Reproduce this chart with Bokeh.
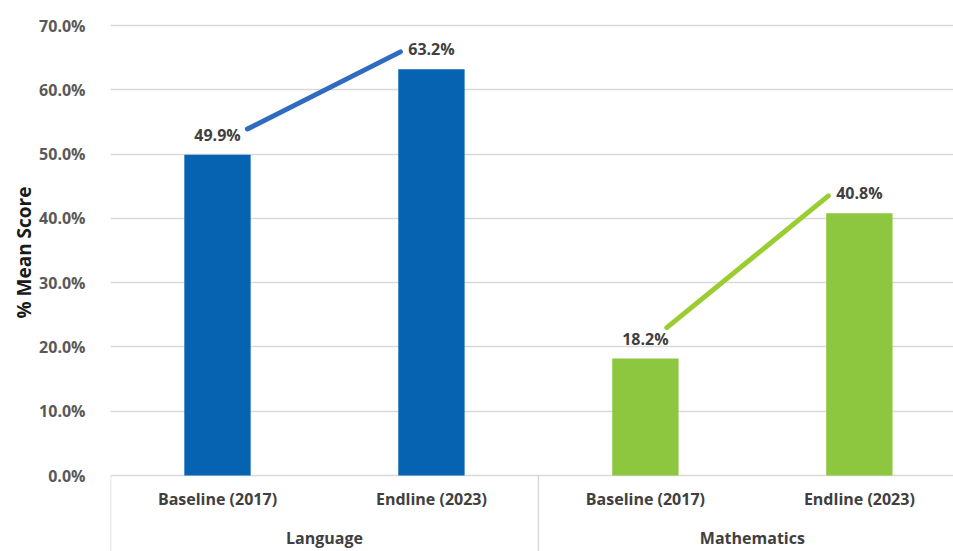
from bokeh.plotting import figure
from bokeh.models import (Range1d, FixedTicker, NumeralTickFormatter, Title,
                          ColumnDataSource)
from bokeh.core.properties import value
from bokeh.embed import file_html
from bokeh.resources import INLINE

# ---- data ----
subjects = ["Language", "Mathematics"]
rounds = ["Baseline (2017)", "Endline (2023)"]
language_scores = [0.499, 0.632]
mathematics_scores = [0.182, 0.408]
y_ticks = [0.0, 0.1, 0.2, 0.3, 0.4, 0.5, 0.6, 0.7]

# ---- style ----
BLUE = "#0563b1"
GREEN = "#8dc63f"
LINE_BLUE = "#2f6cc0"
LINE_GREEN = "#9acd32"
GRID = "#d9d9d9"
FONT = "Open Sans"

p = figure(width=953, height=551, output_backend="svg", toolbar_location=None,
           x_range=Range1d(0, 3.94), y_range=Range1d(-0.1182, 0.7389),
           x_axis_location=None, min_border_left=110, min_border_right=0,
           min_border_top=0, min_border_bottom=0)
p.outline_line_color = None
p.background_fill_color = "white"
p.border_fill_color = "white"

p.add_layout(Title(text="% Mean Score", align="left", offset=233,
                   text_font=FONT, text_font_style="bold",
                   text_font_size="19px", text_color="#1a1a1a",
                   standoff=0), "left")

p.yaxis.ticker = FixedTicker(ticks=y_ticks)
p.yaxis.formatter = NumeralTickFormatter(format="0.0%")
p.yaxis.axis_line_color = None
p.yaxis.major_tick_line_color = None
p.yaxis.minor_tick_line_color = None
p.yaxis.major_label_standoff = 19
p.yaxis.major_label_text_font = FONT
p.yaxis.major_label_text_font_style = "bold"
p.yaxis.major_label_text_font_size = "16px"
p.yaxis.major_label_text_color = "#595959"
p.xgrid.visible = False
p.ygrid.ticker = FixedTicker(ticks=y_ticks)
p.ygrid.grid_line_color = GRID
p.ygrid.grid_line_width = 1.5

series = [(language_scores, BLUE, LINE_BLUE, 0.0),
          (mathematics_scores, GREEN, LINE_GREEN, 2.0)]
start_dx = [0.14, 0.10]
start_dy = [0.040, 0.048]

for i, (vals, col, lcol, x0) in enumerate(series):
    xs = [x0 + 0.5 + k for k in range(len(vals))]
    src = ColumnDataSource(dict(x=xs, top=vals,
                                lab=["{:.1f}%".format(v * 100) for v in vals]))
    p.vbar(x="x", top="top", bottom=0, width=0.31, source=src,
           fill_color=col, line_color=None)
    p.text(x="x", y="top", text="lab", source=src, y_offset=-20,
           text_align="center", text_baseline="middle",
           text_font=value(FONT), text_font_style="bold",
           text_font_size="16px", text_color="#404040")
    # connector arrow between labels
    p.line([xs[0] + start_dx[i], xs[1] - 0.145],
           [vals[0] + start_dy[i], vals[1] + 0.027],
           line_color=lcol, line_width=5, line_cap="round")

# category labels
cat_x = [0.5 + k for k in range(4)]
cat_lab = rounds * 2
p.text(x=cat_x, y=[0] * 4, text=cat_lab, y_offset=23,
       text_align="center", text_baseline="middle",
       text_font=value(FONT), text_font_style="bold",
       text_font_size="16px", text_color="#404040")
grp_x = [1.0, 3.0]
p.text(x=grp_x, y=[0] * 2, text=subjects, y_offset=62,
       text_align="center", text_baseline="middle",
       text_font=value(FONT), text_font_style="bold",
       text_font_size="16px", text_color="#404040")
# separators
p.segment(x0=[0, 2, 4], y0=[0] * 3, x1=[0, 2, 4], y1=[-1] * 3,
          line_color=GRID, line_width=1.5)

open("out.html", "w").write(file_html(p, INLINE))
